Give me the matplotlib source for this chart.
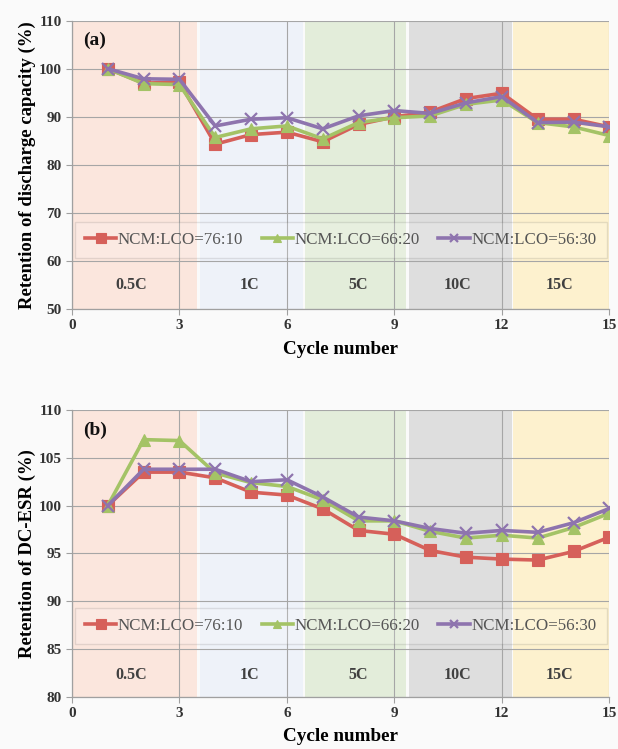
import matplotlib
matplotlib.use("Agg")
import matplotlib.pyplot as plt

plt.rcParams['font.family'] = ['Liberation Serif', 'DejaVu Serif']

cycles = list(range(1, 16))
series_names = ["NCM:LCO=76:10", "NCM:LCO=66:20", "NCM:LCO=56:30"]

# Retention of discharge capacity (%)
cap_76_10 = [100, 97.0, 97.2, 84.3, 86.3, 86.8, 84.8, 88.4, 90.0, 91.0, 93.8, 94.9, 89.5, 89.5, 87.9]
cap_66_20 = [100, 96.9, 96.7, 85.7, 87.5, 88.1, 85.4, 88.8, 89.8, 90.2, 92.6, 93.5, 88.8, 87.9, 86.1]
cap_56_30 = [100, 97.9, 97.8, 88.1, 89.5, 89.8, 87.5, 90.2, 91.3, 90.7, 92.9, 94.2, 88.8, 88.9, 87.9]

# Retention of DC-ESR (%)
esr_76_10 = [100, 103.5, 103.5, 102.9, 101.4, 101.1, 99.65, 97.4, 97.0, 95.3, 94.6, 94.4, 94.3, 95.2, 96.7]
esr_66_20 = [100, 106.9, 106.8, 103.4, 102.4, 102.0, 100.6, 98.4, 98.4, 97.3, 96.6, 96.9, 96.6, 97.7, 99.2]
esr_56_30 = [100, 103.8, 103.8, 103.8, 102.5, 102.7, 100.9, 98.8, 98.4, 97.6, 97.1, 97.4, 97.2, 98.2, 99.7]

# C-rate bands along the cycle axis
rate_labels = ["0.5C", "1C", "5C", "10C", "15C"]
rate_spans = [(0.0, 3.5), (3.57, 6.45), (6.5, 9.32), (9.4, 12.27), (12.32, 15.0)]
rate_label_x = [1.66, 4.96, 8.0, 10.77, 13.6]
rate_colors = ["#FBE6DD", "#EEF2F9", "#E3EDDA", "#DEDEDE", "#FDF1CE"]

line_colors = ["#D6605A", "#A4C366", "#8E74AE"]
markers = ["s", "^", "x"]

fig = plt.figure(figsize=(6.18, 7.49), dpi=100, facecolor="#FAFAFA")
ax_a = fig.add_axes([0.1165, 0.5874, 0.8695, 0.385])
ax_b = fig.add_axes([0.1165, 0.0698, 0.8695, 0.3828])


def draw_panel(ax, data, ylim, yticks, ylabel, tag, tag_y, band_label_y, legend_box):
    ax.set_facecolor("#FAFAFA")
    for (x0, x1), col in zip(rate_spans, rate_colors):
        ax.axvspan(x0, x1, color=col, zorder=0, lw=0)
    ax.set_xlim(0, 15)
    ax.set_ylim(*ylim)
    ax.set_xticks([0, 3, 6, 9, 12, 15])
    ax.set_yticks(yticks)
    ax.grid(True, color="#A6A6A6", lw=0.8, zorder=1)
    ax.set_axisbelow(True)
    for s in ["top", "right"]:
        ax.spines[s].set_visible(False)
    for s in ["left", "bottom"]:
        ax.spines[s].set_color("#A0A0A0")
        ax.spines[s].set_linewidth(0.9)
    ax.tick_params(axis="both", colors="#A0A0A0", labelcolor="#333333",
                   labelsize=11, length=4, width=0.8)
    for lbl in ax.get_xticklabels() + ax.get_yticklabels():
        lbl.set_fontweight("bold")

    for vals, name, col, mk in zip(data, series_names, line_colors, markers):
        ms = 9 if mk == "s" else 8
        ax.plot(cycles, vals, color=col, lw=2.6, marker=mk, ms=ms,
                mew=1.6 if mk == "x" else 0.8, mec=col, mfc=col,
                label=name, zorder=3)

    for lab, lx in zip(rate_labels, rate_label_x):
        ax.text(lx, band_label_y, lab, ha="center", va="center",
                fontsize=11.5, fontweight="bold", color="#404040", zorder=2)

    ax.text(0.3, tag_y, tag, ha="left", va="center", fontsize=14,
            fontweight="bold", color="#111111", zorder=4)

    ax.set_xlabel("Cycle number", fontsize=13.8, fontweight="bold", labelpad=6)
    ax.set_ylabel(ylabel, fontsize=13.5, fontweight="bold", labelpad=2)

    leg = ax.legend(loc="lower left", bbox_to_anchor=legend_box, mode="expand",
                    ncol=3, fontsize=12.2, frameon=True, fancybox=False,
                    handlelength=1.85, handletextpad=0.1, columnspacing=1.0,
                    borderaxespad=0, borderpad=0.6, markerscale=0.75)
    leg.get_frame().set_edgecolor("#555555")
    leg.get_frame().set_facecolor("#FFFFFF")
    leg.get_frame().set_alpha(0.15)
    leg.get_frame().set_linewidth(1.0)
    for t in leg.get_texts():
        t.set_color("#555555")
    leg.set_zorder(5)


draw_panel(ax_a, [cap_76_10, cap_66_20, cap_56_30], (50, 110),
           [50, 60, 70, 80, 90, 100, 110],
           "Retention of discharge capacity (%)", "(a)", 106, 55,
           (0.005, 0.176, 0.99, 0.144))
draw_panel(ax_b, [esr_76_10, esr_66_20, esr_56_30], (80, 110),
           [80, 85, 90, 95, 100, 105, 110],
           "Retention of DC-ESR (%)", "(b)", 107.9, 82.3,
           (0.005, 0.183, 0.99, 0.139))

fig.savefig("out.png", dpi=100, facecolor=fig.get_facecolor())
